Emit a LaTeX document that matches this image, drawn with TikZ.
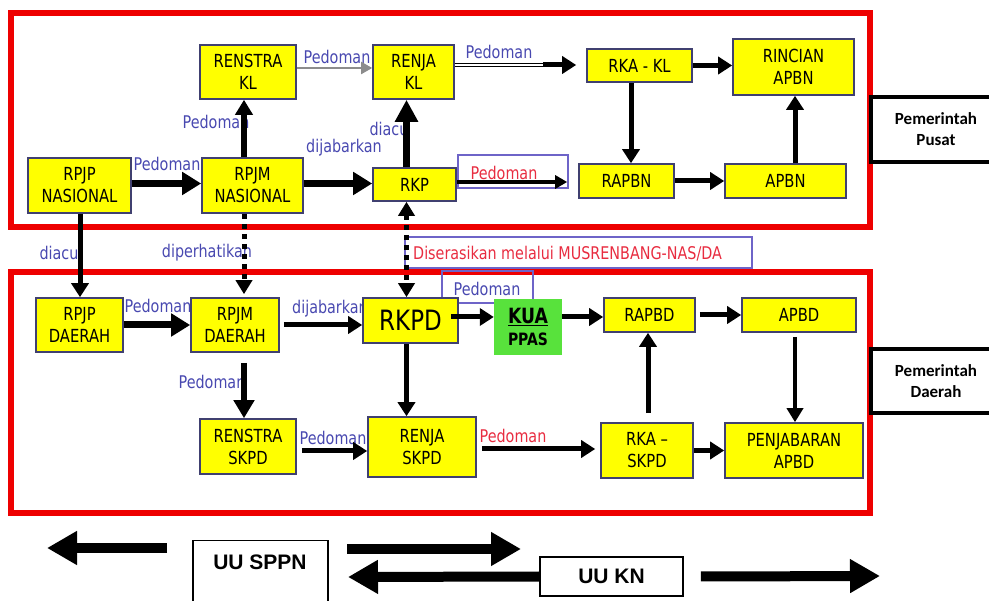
\documentclass[tikz,border=0pt]{standalone}
\usepackage{fontspec}
\setmainfont[FakeStretch=0.82]{DejaVu Sans}
\newfontfamily\carl{Carlito}
\newfontfamily\libs{Liberation Sans}
\usetikzlibrary{arrows.meta}
\definecolor{frred}{RGB}{238,0,0}
\definecolor{ylw}{RGB}{255,255,0}
\definecolor{kgreen}{RGB}{88,226,60}
\definecolor{nodeb}{RGB}{64,64,112}
\definecolor{lblue}{RGB}{72,72,176}
\definecolor{lred}{RGB}{232,44,64}
\definecolor{bxblue}{RGB}{110,100,200}
\definecolor{agray}{RGB}{140,140,140}
\tikzset{
 ybox/.style={draw=nodeb,line width=1.6pt,fill=ylw,inner sep=0pt,align=center,font=\fontsize{18}{22}\selectfont},
 lbl/.style={text=lblue,inner sep=0pt,font=\fontsize{17.5}{20}\selectfont},
 rlbl/.style={text=lred,inner sep=0pt,font=\fontsize{17.5}{20}\selectfont},
 redframe/.style={draw=frred,line width=6.5pt},
 pbox/.style={draw=black,line width=4pt,fill=white,align=center,inner sep=0pt,font=\carl\bfseries\fontsize{17}{21}\selectfont},
 arrA/.style={line width=7pt,-{Triangle[length=19pt,width=22pt]}},
 arrB/.style={line width=5pt,-{Triangle[length=14pt,width=17pt]}},
 bigarr/.style={line width=10pt,-{Triangle[length=30pt,width=32pt]}},
 dotl/.style={line width=5pt,dash pattern=on 5pt off 5pt},
 bluebox/.style={draw=bxblue,line width=1.3pt},
 uutext/.style={inner sep=0pt,font=\libs\bfseries\fontsize{21}{24}\selectfont},
}
\begin{document}
\begin{tikzpicture}[x=1pt,y=-1pt]
\useasboundingbox (0,0) rectangle (989,601);
\clip (0,0) rectangle (989,601);
% helper coordinates
\coordinate (v79) at (80,0);
\coordinate (v244) at (244,0);
\coordinate (v406) at (406.5,0);
\coordinate (v631) at (631,0);
\coordinate (v794) at (795,0);
\coordinate (v648) at (648,0);
\coordinate (h183) at (0,183.5);
\coordinate (h182) at (0,182);
\coordinate (h68) at (0,68);
\coordinate (h65) at (0,65);
\coordinate (h317) at (0,317);
\coordinate (h451) at (0,451);
\coordinate (h449) at (0,449);
\coordinate (c543) at (543,65);
% red frames
\draw[redframe] (11,13) rectangle (870,227);
\draw[redframe] (11,272) rectangle (870,513);
% blue label boxes
\draw[bluebox] (458,155) rectangle (568,188);
\draw[bluebox] (405,237) rectangle (752,268);
\draw[bluebox] (442,271) rectangle (533,303);
% labels
\node[lbl] (l1) at (167,164) {Pedoman};
\node[lbl] (l2) at (216,122) {Pedoman};
\node[lbl] (l3) at (344,148) {dijabarkan};
\node[lbl] (l4) at (389,129) {diacu};
\node[lbl] (l5) at (337,57) {Pedoman};
\node[lbl] (l6) at (499,52) {Pedoman};
\node[rlbl] (l7) at (504,173) {Pedoman};
\node[lbl] (l8) at (59,253) {diacu};
\node[lbl] (l9) at (207,253) {diperhatikan};
\node[rlbl,anchor=west] (l10) at (413,254) {Diserasikan melalui MUSRENBANG-NAS/DA};
\node[lbl] (l11) at (158,306) {Pedoman};
\node[lbl] (l12) at (330,309) {dijabarkan};
\node[lbl] (l13) at (212,382) {Pedoman};
\node[lbl] (l14) at (333,438) {Pedoman};
\node[rlbl] (l15) at (513,436) {Pedoman};
\node[lbl] (l16) at (487,289) {Pedoman};
% top nodes
\node[ybox,minimum width=96pt,minimum height=54pt] (renstrakl) at (248,72) {RENSTRA\\KL};
\node[ybox,minimum width=81pt,minimum height=54pt] (renjakl) at (413.5,72) {RENJA\\KL};
\node[ybox,minimum width=103pt,minimum height=55pt] (rpjpn) at (79.5,185.5) {RPJP\\NASIONAL};
\node[ybox,minimum width=101pt,minimum height=55pt] (rpjmn) at (252.5,185.5) {RPJM\\NASIONAL};
\node[ybox,minimum width=83pt,minimum height=33pt] (rkp) at (414.5,184.5) {RKP};
\node[ybox,minimum width=105pt,minimum height=33pt] (rkakl) at (639.5,65.5) {RKA - KL};
\node[ybox,minimum width=121pt,minimum height=56pt] (rinapbn) at (793.5,67) {RINCIAN\\APBN};
\node[ybox,minimum width=95pt,minimum height=34pt] (rapbn) at (626.5,181) {RAPBN};
\node[ybox,minimum width=121pt,minimum height=34pt] (apbn) at (785.5,181) {APBN};
% bottom nodes
\node[ybox,minimum width=87pt,minimum height=54pt] (rpjpd) at (79.5,325) {RPJP\\DAERAH};
\node[ybox,minimum width=88pt,minimum height=54pt] (rpjmd) at (235,325) {RPJM\\DAERAH};
\node[ybox,minimum width=95pt,minimum height=45pt,font=\fontsize{28}{30}\selectfont] (rkpd) at (410.5,320.5) {RKPD};
\node[ybox,minimum width=96pt,minimum height=55pt] (renstraskpd) at (248,446.5) {RENSTRA\\SKPD};
\node[ybox,minimum width=108pt,minimum height=60pt] (renjaskpd) at (422,447) {RENJA\\SKPD};
\node[fill=kgreen,minimum width=68pt,minimum height=56pt,inner sep=0pt,align=center,font=\bfseries\fontsize{17}{22}\selectfont] (kua) at (528,327) {{\fontsize{21}{22}\selectfont\underline{KUA}}\\PPAS};
\node[ybox,minimum width=91pt,minimum height=34pt] (rapbd) at (649.5,315) {RAPBD};
\node[ybox,minimum width=114pt,minimum height=34pt] (apbd) at (799,315) {APBD};
\node[ybox,minimum width=92pt,minimum height=55pt] (rkaskpd) at (647,450.5) {RKA \textendash\\SKPD};
\node[ybox,minimum width=138pt,minimum height=55pt] (penjab) at (794,450.5) {PENJABARAN\\APBD};
% side boxes
\node[pbox,minimum width=130pt,minimum height=65pt] (pusat) at (936,129.5) {Pemerintah\\Pusat};
\node[pbox,minimum width=130pt,minimum height=64pt] (daerah) at (936,381) {Pemerintah\\Daerah};
% top connectors
\draw[arrA] (rpjpn.east |- h183) -- (rpjmn.west |- h183);
\draw[arrA] (rpjmn.east |- h183) -- (rkp.west |- h183);
\draw[line width=6pt,-{Triangle[length=15pt,width=17pt]}] (rpjmn.north -| v244) -- (renstrakl.south -| v244);
\draw[line width=7pt,-{Triangle[length=22pt,width=22pt]}] (rkp.north -| v406) -- (renjakl.south -| v406);
\draw[draw=agray,line width=2pt,-{Triangle[length=11pt,width=12pt]}] (renstrakl.east |- h68) -- (renjakl.west |- h68);
\draw[line width=1.2pt,double,double distance=1.3pt] (renjakl.east |- h65) -- (c543);
\draw[arrB] (c543) -- ([xshift=-10pt]rkakl.west |- h65);
\draw[line width=4.5pt,-{Triangle[length=12pt,width=13pt]}] (rkp.east |- h182) -- ([xshift=-11pt]rapbn.west |- h182);
\draw[arrB] (rkakl.east) -- (rinapbn.west |- rkakl.east);
\draw[arrB] (rkakl.south -| v631) -- (rapbn.north -| v631);
\draw[arrB] (rapbn.east) -- (apbn.west);
\draw[arrB] (apbn.north -| v794) -- (rinapbn.south -| v794);
% between levels
\draw[arrB] (rpjpn.south -| v79) -- (rpjpd.north -| v79);
\draw[dotl,-{Triangle[length=14pt,width=16pt]}] (rpjmn.south -| v244) -- ([yshift=3pt]rpjmd.north -| v244);
\draw[dotl,{Triangle[length=14pt,width=16pt]}-{Triangle[length=14pt,width=16pt]}] (rkp.south -| v406) -- (rkpd.north -| v406);
% bottom connectors
\draw[arrA] (rpjpd.east) -- (rpjmd.west);
\draw[arrB] ([xshift=4pt]rpjmd.east) -- (rkpd.west |- rpjmd.east);
\draw[line width=6pt,-{Triangle[length=18pt,width=20pt]}] ([yshift=-10pt]rpjmd.south -| v244) -- (renstraskpd.north -| v244);
\draw[arrB] (rkpd.south -| v406) -- (renjaskpd.north -| v406);
\draw[arrB] ([xshift=5pt]renstraskpd.east |- h451) -- (renjaskpd.west |- h451);
\draw[arrB] ([xshift=-8pt]rkpd.east |- h317) -- (kua.west |- h317);
\draw[arrB] (kua.east |- h317) -- (rapbd.west |- h317);
\draw[arrB] ([xshift=4pt]rapbd.east) -- (apbd.west);
\draw[line width=4.5pt,-{Triangle[length=14pt,width=16pt]}] ([yshift=-4pt]apbd.south -| v794) -- (penjab.north -| v794);
\draw[arrB] ([yshift=9pt]rkaskpd.north -| v648) -- (rapbd.south -| v648);
\draw[arrB] ([xshift=5pt]renjaskpd.east |- h449) -- ([xshift=-5pt]rkaskpd.west |- h449);
\draw[arrB] (rkaskpd.east) -- (penjab.west);
% bottom legend
\node[draw=black,line width=1.5pt,inner sep=0pt,minimum width=135pt,minimum height=75pt,anchor=north west] (sppnbox) at (192,540) {};
\node[uutext] (sppn) at (260,562) {UU SPPN};
\node[uutext,draw=black,line width=1.8pt,minimum width=143pt,minimum height=39pt] (uukn) at (611.5,576.5) {UU KN};
\coordinate (la1) at (167,548);
\coordinate (la2) at (47,548);
\coordinate (ra1) at (347,549);
\coordinate (ra2) at (521,549);
\coordinate (lb2) at (348,577);
\coordinate (rc2) at (880,576);
\draw[bigarr] (la1) -- (la2);
\draw[bigarr] (ra1) -- (ra2);
\draw[bigarr] (uukn.west) -- (lb2);
\draw[bigarr] ([xshift=17pt]uukn.east) -- (rc2);
\end{tikzpicture}
\end{document}
